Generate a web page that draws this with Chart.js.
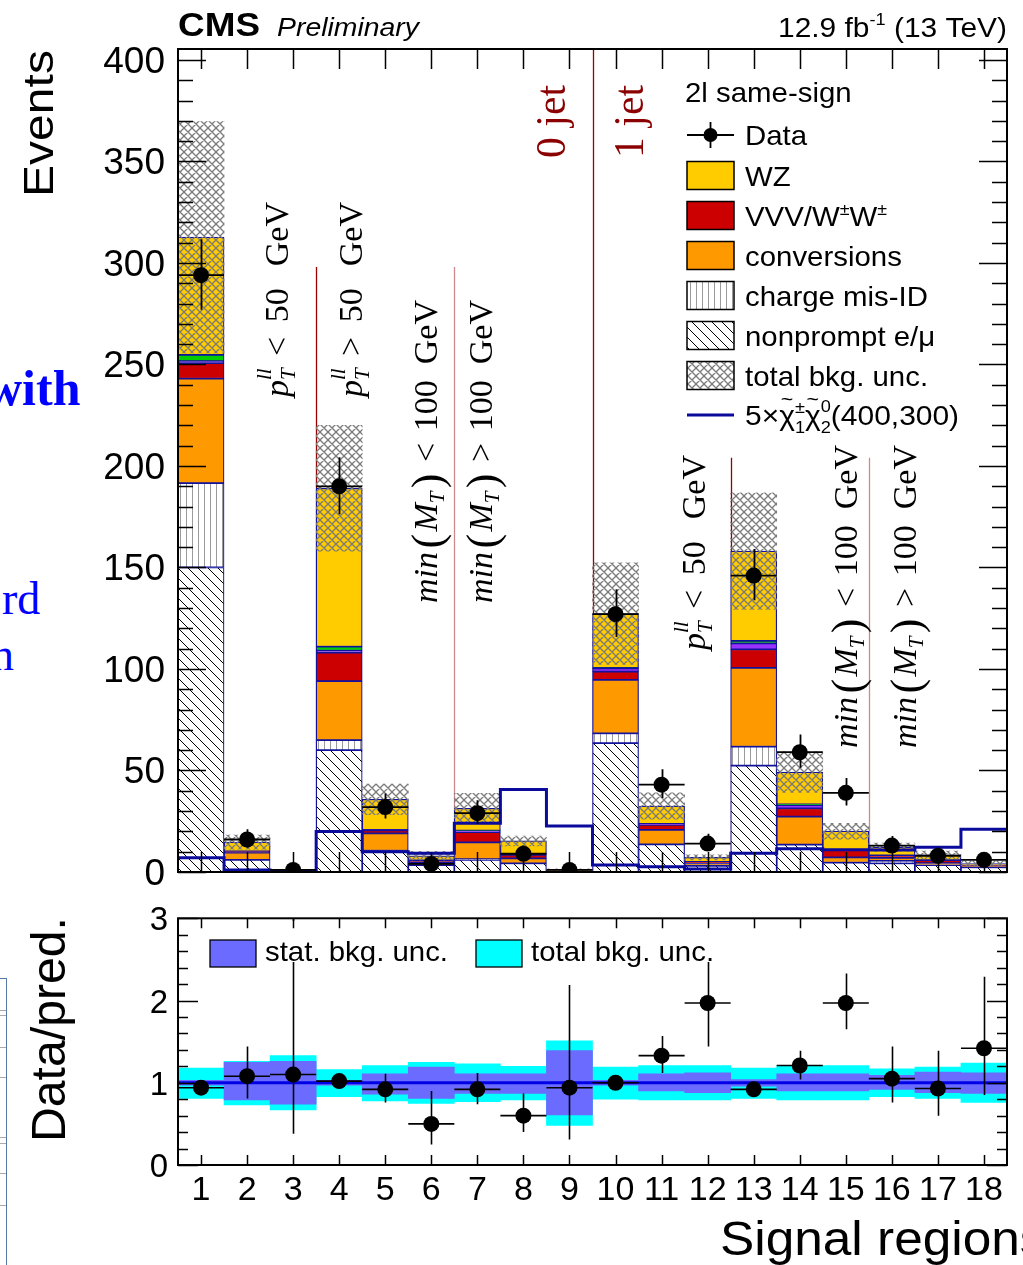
<!DOCTYPE html>
<html>
<head>
<meta charset="utf-8">
<title>2l same-sign signal regions</title>
<script src="https://cdn.jsdelivr.net/npm/chart.js@4.4.1/dist/chart.umd.min.js"></script>
<style>
  html, body { margin:0; padding:0; background:#fff; }
  body { width:1023px; height:1265px; overflow:hidden; position:relative; }
  canvas { position:absolute; left:0; }
  #cTop { top:0; }
  #cBot { top:880px; }
  .art { position:absolute; color:#0000ff; font-family:"Liberation Serif","Times New Roman",serif; white-space:nowrap; line-height:1; }
  .tbl { position:absolute; left:0; width:6px; border-right:1px solid #5577aa; border-top:1px solid #5577aa; }
  .tl { position:absolute; left:0; width:6px; height:1px; background:#aaaaaa; }
</style>
</head>
<body>
<div class="art" style="left:-14px; top:363px; font-size:50px; font-weight:bold;">with</div>
<div class="art" style="left:2px; top:576px; font-size:46px;">rd</div>
<div class="art" style="left:-9px; top:632px; font-size:46px;">n</div>
<div class="tbl" style="top:978px; height:287px;"></div>
<div class="tl" style="top:1010px"></div>
<div class="tl" style="top:1015px"></div>
<div class="tl" style="top:1047px"></div>
<div class="tl" style="top:1077px"></div>
<div class="tl" style="top:1137px"></div>
<div class="tl" style="top:1143px"></div>
<div class="tl" style="top:1173px"></div>
<div class="tl" style="top:1205px"></div>
<canvas id="cTop" width="1023" height="900"></canvas>
<canvas id="cBot" width="1023" height="385"></canvas>
<script>
// ---------------- DATA ----------------
const bins = [1,2,3,4,5,6,7,8,9,10,11,12,13,14,15,16,17,18];
const xTickLabels = ['1','2','3','4','5','6','7','8','9','10','11','12','13','14','15','16','17','18'];
const yTicksTop = [0,50,100,150,200,250,300,350,400];
const yTicksRatio = [0,1,2,3];

// stacked background components (events), bottom to top
const nonprompt   = [150, 6, 0.4, 60, 10, 3.4, 6, 4.3, 0.5, 63.5, 13.6, 3, 52.4, 13.5, 4.6, 4.3, 3.4, 2.3];
const chargeMisID = [41.5, 0, 0, 5, 0.5, 0, 0.3, 0, 0, 4.8, 0, 0, 9.3, 0, 0, 1.2, 0, 0];
const conversions = [51.5, 3.5, 0.2, 29, 8.5, 1.5, 8.3, 2.4, 0.3, 26.3, 7.1, 1.2, 38.9, 13.8, 2.6, 1.5, 1, 0.5];
const vvvWW       = [7.7, 0.7, 0.1, 14, 1.5, 0.8, 5, 1.7, 0.1, 4.1, 2.5, 0.8, 9.1, 4.1, 3.6, 1.2, 1.5, 0.6];
const otherPurple = [1, 0, 0, 1, 0.3, 0, 0.5, 0, 0, 1.6, 0.5, 0, 2.9, 1.6, 0, 0, 0, 0];
const otherGreen  = [3, 0, 0, 2, 0, 0, 0.3, 0, 0, 0.3, 0, 0, 1.3, 0.3, 0, 0, 0, 0];
const wz          = [58, 4.5, 0.2, 78, 15, 2.3, 11, 6.9, 0.2, 26.7, 8.8, 2.2, 44.2, 15.9, 9.3, 4, 2.5, 0.8];
const totUnc      = [57, 3.5, 0.4, 31, 7.5, 2, 7.4, 2.4, 0.5, 25, 6.5, 1.3, 28.7, 10, 3.9, 2, 1.9, 1.1];

const dataVals    = [294, 16, 1, 190, 32, 4, 29, 9, 1, 127, 43, 14, 146, 59, 39, 13, 8, 6];
const dataErrUp   = [17.7, 5.1, 2.3, 14.3, 6.7, 3.2, 6.4, 4.1, 2.3, 12.3, 7.6, 4.8, 13.1, 8.7, 7.3, 4.7, 3.9, 3.6];
const dataErrDown = [17.1, 4.0, 0.8, 13.8, 5.6, 1.9, 5.4, 2.9, 0.8, 11.3, 6.5, 3.7, 12.1, 7.7, 6.2, 3.6, 2.8, 2.4];

const signal      = [7, 1, 0.5, 20, 10, 9.2, 24, 40.7, 22.6, 3.4, 2.6, 1.5, 9.2, 11.5, 11, 10.8, 12.2, 21];

// ratio panel
const ratioVals   = [0.94, 1.08, 1.10, 1.02, 0.92, 0.50, 0.92, 0.60, 0.94, 1.00, 1.33, 1.97, 0.92, 1.21, 1.97, 1.05, 0.93, 1.42];
const ratioUp     = [1.00, 1.44, 3.60, 1.07, 1.11, 0.90, 1.12, 0.87, 2.19, 1.04, 1.57, 2.62, 1.00, 1.39, 2.33, 1.44, 1.39, 2.29];
const ratioDown   = [0.88, 0.81, 0.38, 0.97, 0.76, 0.25, 0.74, 0.40, 0.31, 0.96, 1.12, 1.44, 0.84, 1.04, 1.65, 0.76, 0.60, 0.85];
const totBandHi   = [1.18, 1.26, 1.33, 1.16, 1.21, 1.25, 1.23, 1.20, 1.51, 1.19, 1.21, 1.21, 1.18, 1.21, 1.21, 1.17, 1.19, 1.24];
const totBandLo   = [0.81, 0.73, 0.67, 0.83, 0.78, 0.75, 0.77, 0.79, 0.48, 0.80, 0.79, 0.79, 0.81, 0.79, 0.79, 0.83, 0.81, 0.76];
const statBandHi  = [1.03, 1.25, 1.26, 1.03, 1.11, 1.19, 1.11, 1.11, 1.39, 1.03, 1.11, 1.12, 1.04, 1.11, 1.11, 1.09, 1.13, 1.12];
const statBandLo  = [0.97, 0.79, 0.74, 0.97, 0.86, 0.81, 0.87, 0.87, 0.61, 0.97, 0.90, 0.88, 0.96, 0.90, 0.90, 0.92, 0.88, 0.87];

// region separators (bin-edge position, top value)
const dividerPos = [3.5, 6.5, 9.5, 12.5, 15.5];
const dividerTop = [298, 298, 999, 204, 204];
const dividerCol = ['#990000', '#cc8a8a', '#990000', '#990000', '#cc8a8a'];

// ---------------- STYLE HELPERS ----------------
const SANS = '"Liberation Sans", Arial, Helvetica, sans-serif';
const SERIF = '"Liberation Serif", "Times New Roman", serif';
const sans = (px, st) => (st ? st + ' ' : '') + px + 'px ' + SANS;
const serif = (px, st) => (st ? st + ' ' : '') + px + 'px ' + SERIF;

const C_WZ = '#FFCC00', C_VVV = '#CC0000', C_CONV = '#FF9900', C_PURP = '#9933FF', C_GREEN = '#00CC00';
const C_EDGE = '#12129c', C_SIG = '#0a0a9c';

function tile(size, draw) {
  const c = document.createElement('canvas');
  c.width = size; c.height = size;
  draw(c.getContext('2d'), size);
  return c;
}
const tileNonprompt = tile(10, (g, s) => {
  g.fillStyle = '#fff'; g.fillRect(0, 0, s, s);
  g.strokeStyle = '#000'; g.lineWidth = 1;
  g.beginPath();
  for (const o of [-s, 0, s]) { g.moveTo(o, 0); g.lineTo(o + s, s); }
  g.stroke();
});
const tileCharge = tile(6, (g, s) => {
  g.fillStyle = '#fff'; g.fillRect(0, 0, s, s);
  g.strokeStyle = '#9a9a9a'; g.lineWidth = 1;
  g.beginPath(); g.moveTo(0.5, 0); g.lineTo(0.5, s); g.stroke();
});
const tileCross = tile(8, (g, s) => {
  g.strokeStyle = '#7a7a7a'; g.lineWidth = 1.3;
  g.beginPath();
  for (const o of [-s, 0, s]) { g.moveTo(o, 0); g.lineTo(o + s, s); g.moveTo(o, s); g.lineTo(o + s, 0); }
  g.stroke();
});

// rich text: parts {t,f,dy,sup,supF,supDy,over,overF,overDy,g}
function drawRich(ctx, x, y, rot, parts, opt) {
  opt = opt || {};
  ctx.save();
  ctx.translate(x, y);
  if (rot) ctx.rotate(-Math.PI / 2);
  ctx.fillStyle = opt.color || '#000';
  ctx.textBaseline = 'alphabetic';
  ctx.textAlign = 'left';
  const widths = parts.map(p => {
    if (p.g) return 0;
    ctx.font = p.f;
    let w = ctx.measureText(p.t).width;
    if (p.sup) { ctx.font = p.supF || p.f; w = Math.max(w, ctx.measureText(p.sup).width); }
    return w;
  });
  const natural = widths.reduce((a, b) => a + b, 0);
  const gsum = parts.reduce((a, p) => a + (p.g || 0), 0);
  let sx = opt.sx || 1, per = 0;
  if (opt.len) {
    if (gsum > 0 && opt.len > natural) per = (opt.len - natural) / gsum;
    else sx = opt.len / natural;
  }
  const total = (natural + per * gsum) * sx;
  if (opt.align === 'right') ctx.translate(-total, 0);
  else if (opt.align === 'center') ctx.translate(-total / 2, 0);
  ctx.scale(sx, 1);
  let cx = 0;
  parts.forEach((p, i) => {
    if (p.g) { cx += p.g * per; return; }
    ctx.font = p.f;
    ctx.fillText(p.t, cx, p.dy || 0);
    if (p.over) {
      const wt = ctx.measureText(p.t).width;
      ctx.font = p.overF || p.f;
      const wo = ctx.measureText(p.over).width;
      ctx.fillText(p.over, cx + (wt - wo) / 2, p.overDy || 0);
    }
    if (p.sup) { ctx.font = p.supF || p.f; ctx.fillText(p.sup, cx, p.supDy); }
    cx += widths[i];
  });
  ctx.restore();
  return total;
}

function pLabel(sign) {
  return [
    { t: 'p', f: serif(34, 'italic') },
    { t: 'T', f: serif(21, 'italic'), dy: 7, sup: 'll', supF: serif(21, 'italic'), supDy: -17 },
    { g: 1 },
    { t: sign, f: serif(34) },
    { g: 1.2 },
    { t: '50', f: serif(34) },
    { g: 1.8 },
    { t: 'GeV', f: serif(34) }
  ];
}
function minLabel(sign) {
  return [
    { t: 'min', f: serif(34, 'italic') },
    { g: 0.3 },
    { t: '(', f: serif(44), dy: 5 },
    { g: 0.2 },
    { t: 'M', f: serif(34, 'italic') },
    { t: 'T', f: serif(21, 'italic'), dy: 7 },
    { g: 0.3 },
    { t: ')', f: serif(44), dy: 5 },
    { g: 1 },
    { t: sign, f: serif(34) },
    { g: 1 },
    { t: '100', f: serif(34) },
    { g: 1.4 },
    { t: 'GeV', f: serif(34) }
  ];
}

function drawFrame(chart, o) {
  const { ctx, chartArea: a, scales: { x, y } } = chart;
  ctx.save();
  ctx.strokeStyle = '#000';
  ctx.lineWidth = 1.5;
  ctx.beginPath();
  const n = Math.round((o.yEnd - o.yStart) / o.minor);
  for (let k = 0; k <= n; k++) {
    const v = o.yStart + k * o.minor;
    const major = Math.abs(v / o.major - Math.round(v / o.major)) < 1e-6;
    const L = major ? o.majLen : o.minLen;
    const py = Math.round(y.getPixelForValue(v)) + 0.5;
    ctx.moveTo(a.left, py); ctx.lineTo(a.left + L, py);
    ctx.moveTo(a.right, py); ctx.lineTo(a.right - L, py);
  }
  bins.forEach(b => {
    const px = Math.round(x.getPixelForValue(b)) + 0.5;
    ctx.moveTo(px, a.bottom); ctx.lineTo(px, a.bottom - o.xLen);
    ctx.moveTo(px, a.top); ctx.lineTo(px, a.top + o.xLen);
  });
  ctx.stroke();
  ctx.lineWidth = 2;
  ctx.strokeRect(a.left, a.top, a.right - a.left, a.bottom - a.top);
  ctx.restore();
}

function errorBars(chart, vals, up, down, lw) {
  const { ctx, chartArea: a, scales: { x, y } } = chart;
  ctx.save();
  ctx.beginPath(); ctx.rect(a.left, a.top, a.right - a.left, a.bottom - a.top); ctx.clip();
  ctx.strokeStyle = '#000'; ctx.lineWidth = lw;
  ctx.beginPath();
  bins.forEach((b, i) => {
    const cx = Math.round(x.getPixelForValue(b)) + 0.5;
    ctx.moveTo(cx, y.getPixelForValue(up[i]));
    ctx.lineTo(cx, y.getPixelForValue(down[i]));
    const cy = y.getPixelForValue(vals[i]);
    ctx.moveTo(x.getPixelForValue(b - 0.5), cy);
    ctx.lineTo(x.getPixelForValue(b + 0.5), cy);
  });
  ctx.stroke();
  ctx.restore();
}

// ---------------- TOP CHART ----------------
const ctxTop = document.getElementById('cTop').getContext('2d');
const patNonprompt = ctxTop.createPattern(tileNonprompt, 'repeat');
const patCharge = ctxTop.createPattern(tileCharge, 'repeat');
const patCross = ctxTop.createPattern(tileCross, 'repeat');

const stackDefs = [
  { label: 'nonprompt e/\u03bc', vals: nonprompt, bg: patNonprompt },
  { label: 'charge mis-ID', vals: chargeMisID, bg: patCharge },
  { label: 'conversions', vals: conversions, bg: C_CONV },
  { label: 'VVV/W\u00b1W\u00b1', vals: vvvWW, bg: C_VVV },
  { label: 'other (a)', vals: otherPurple, bg: C_PURP },
  { label: 'other (b)', vals: otherGreen, bg: C_GREEN },
  { label: 'WZ', vals: wz, bg: C_WZ }
];
const cum = bins.map(() => 0);
const stackDatasets = stackDefs.map(d => {
  const pts = bins.map((b, i) => {
    const lo = cum[i], hi = cum[i] + d.vals[i];
    cum[i] = hi;
    return d.vals[i] > 0 ? { x: b, y: [lo, hi] } : { x: b, y: null };
  });
  return {
    type: 'bar', label: d.label, data: pts, backgroundColor: d.bg,
    borderColor: C_EDGE, borderWidth: 1.2, borderSkipped: false,
    grouped: false, barPercentage: 1, categoryPercentage: 1, order: 3
  };
});
const pred = cum.slice();

const uncDataset = {
  type: 'bar', label: 'total bkg. unc.',
  data: bins.map((b, i) => ({ x: b, y: [pred[i] - totUnc[i], pred[i] + totUnc[i]] })),
  backgroundColor: patCross, borderWidth: 0, grouped: false,
  barPercentage: 1, categoryPercentage: 1, order: 2
};
const sigPoints = bins.map((b, i) => ({ x: b - 0.5, y: signal[i] }));
sigPoints.push({ x: bins[bins.length - 1] + 0.5, y: signal[signal.length - 1] });
const sigDataset = {
  type: 'line', label: '5x signal', data: sigPoints, stepped: 'before',
  borderColor: C_SIG, borderWidth: 3, pointRadius: 0, fill: false, order: 1
};
const dataDataset = {
  type: 'line', label: 'Data', data: bins.map((b, i) => ({ x: b, y: dataVals[i] })),
  showLine: false, pointRadius: 8, pointHoverRadius: 8, pointBackgroundColor: '#000',
  pointBorderColor: '#000', pointBorderWidth: 0, order: 0
};

const topDecor = {
  id: 'topDecor',
  beforeDatasetsDraw(chart) {
    const { ctx, scales: { x, y } } = chart;
    ctx.save();
    dividerPos.forEach((p, i) => {
      ctx.strokeStyle = dividerCol[i]; ctx.lineWidth = 1.3;
      const px = Math.round(x.getPixelForValue(p)) + 0.5;
      ctx.beginPath();
      ctx.moveTo(px, y.getPixelForValue(0));
      ctx.lineTo(px, y.getPixelForValue(Math.min(dividerTop[i], y.max)));
      ctx.stroke();
    });
    ctx.restore();
  },
  afterDatasetsDraw(chart) {
    errorBars(chart, dataVals,
      dataVals.map((v, i) => v + dataErrUp[i]),
      dataVals.map((v, i) => v - dataErrDown[i]), 1.8);
  },
  afterDraw(chart) {
    const { ctx, chartArea: a, scales: { x, y } } = chart;
    drawFrame(chart, { yStart: 0, yEnd: 400, minor: 10, major: 50, majLen: 28, minLen: 15, xLen: 20 });

    // y tick labels
    ctx.save();
    ctx.fillStyle = '#000'; ctx.font = sans(37); ctx.textAlign = 'right'; ctx.textBaseline = 'alphabetic';
    yTicksTop.forEach(v => ctx.fillText(String(v), a.left - 13, y.getPixelForValue(v) + 13));
    ctx.restore();

    // axis title
    drawRich(ctx, 53, 197, true, [{ t: 'Events', f: sans(42) }], { len: 147 });

    // header
    drawRich(ctx, 178, 36, false, [{ t: 'CMS', f: sans(34, 'bold') }], { len: 82 });
    drawRich(ctx, 277, 36, false, [{ t: 'Preliminary', f: sans(26, 'italic') }], { len: 142 });
    drawRich(ctx, 1007, 37, false, [
      { t: '12.9 fb', f: sans(28) },
      { t: '-1', f: sans(17), dy: -12 },
      { t: ' (13 TeV)', f: sans(28) }
    ], { len: 229, align: 'right' });

    // region labels
    drawRich(ctx, 288, 397, true, pLabel('<'), { len: 195 });
    drawRich(ctx, 362, 397, true, pLabel('>'), { len: 195 });
    drawRich(ctx, 437, 603, true, minLabel('<'), { len: 303 });
    drawRich(ctx, 492, 603, true, minLabel('>'), { len: 303 });
    drawRich(ctx, 705, 650, true, pLabel('<'), { len: 195 });
    drawRich(ctx, 857, 748, true, minLabel('<'), { len: 303 });
    drawRich(ctx, 916, 748, true, minLabel('>'), { len: 303 });
    drawRich(ctx, 565, 158, true, [{ t: '0 jet', f: serif(42) }], { len: 73, color: '#8B0000' });
    drawRich(ctx, 643, 158, true, [{ t: '1 jet', f: serif(42) }], { len: 73, color: '#8B0000' });

    // legend
    const LX = 687, LW = 47, LH = 28, TX = 745, SX = 1.05;
    drawRich(ctx, 685, 102, false, [{ t: '2l same-sign', f: sans(28) }], { sx: SX });
    // data row
    ctx.save();
    ctx.strokeStyle = '#000'; ctx.lineWidth = 1.8;
    ctx.beginPath();
    ctx.moveTo(LX, 135); ctx.lineTo(LX + LW, 135);
    ctx.moveTo(LX + LW / 2, 122); ctx.lineTo(LX + LW / 2, 148);
    ctx.stroke();
    ctx.fillStyle = '#000';
    ctx.beginPath(); ctx.arc(LX + LW / 2, 135, 7, 0, Math.PI * 2); ctx.fill();
    ctx.restore();
    drawRich(ctx, TX, 145, false, [{ t: 'Data', f: sans(28) }], { sx: SX });

    const boxes = [
      { c: 175.5, fill: C_WZ, parts: [{ t: 'WZ', f: sans(28) }] },
      { c: 215.5, fill: C_VVV, parts: [
        { t: 'VVV/W', f: sans(28) }, { t: '\u00b1', f: sans(17), dy: -11 },
        { t: 'W', f: sans(28) }, { t: '\u00b1', f: sans(17), dy: -11 }] },
      { c: 255.5, fill: C_CONV, parts: [{ t: 'conversions', f: sans(28) }] },
      { c: 295.5, fill: patCharge, parts: [{ t: 'charge mis-ID', f: sans(28) }] },
      { c: 335.5, fill: patNonprompt, parts: [{ t: 'nonprompt e/\u03bc', f: sans(28) }] },
      { c: 375.5, fill: patCross, under: '#fff', parts: [{ t: 'total bkg. unc.', f: sans(28) }] }
    ];
    boxes.forEach(bx => {
      ctx.save();
      if (bx.under) { ctx.fillStyle = bx.under; ctx.fillRect(LX, bx.c - LH / 2, LW, LH); }
      ctx.fillStyle = bx.fill; ctx.fillRect(LX, bx.c - LH / 2, LW, LH);
      ctx.strokeStyle = '#000'; ctx.lineWidth = 1.5;
      ctx.strokeRect(LX, bx.c - LH / 2, LW, LH);
      ctx.restore();
      drawRich(ctx, TX, bx.c + 10, false, bx.parts, { sx: SX });
    });
    ctx.save();
    ctx.strokeStyle = C_SIG; ctx.lineWidth = 3;
    ctx.beginPath(); ctx.moveTo(LX, 415); ctx.lineTo(LX + LW, 415); ctx.stroke();
    ctx.restore();
    drawRich(ctx, TX, 425, false, [
      { t: '5\u00d7', f: sans(28) },
      { t: '\u03c7', f: sans(28), over: '~', overF: sans(20), overDy: -19 },
      { t: '1', f: sans(17), dy: 8, sup: '\u00b1', supF: sans(17), supDy: -12 },
      { t: '\u03c7', f: sans(28), over: '~', overF: sans(20), overDy: -19 },
      { t: '2', f: sans(17), dy: 8, sup: '0', supF: sans(17), supDy: -13 },
      { t: '(400,300)', f: sans(28) }
    ], { sx: 1.07 });
  }
};

new Chart(ctxTop, {
  type: 'bar',
  data: { datasets: [dataDataset, sigDataset, uncDataset].concat(stackDatasets) },
  options: {
    responsive: false, animation: false, devicePixelRatio: 1, events: [],
    layout: { padding: { left: 178, right: 16, top: 49, bottom: 28 } },
    plugins: { legend: { display: false }, tooltip: { enabled: false } },
    scales: {
      x: { type: 'linear', min: 0.5, max: 18.5, display: false, offset: false,
           ticks: { stepSize: 1 } },
      y: { type: 'linear', min: 0, max: 405.4, display: false }
    }
  },
  plugins: [topDecor]
});

// ---------------- RATIO CHART ----------------
const ctxBot = document.getElementById('cBot').getContext('2d');

const botDecor = {
  id: 'botDecor',
  afterDatasetsDraw(chart) {
    const { ctx } = chart;
    errorBars(chart, ratioVals, ratioUp, ratioDown, 1.6);
    // legend (white fill)
    ctx.save();
    ctx.fillStyle = '#fff';
    ctx.fillRect(200, 41, 520, 41);
    ctx.fillStyle = '#6B6BFF'; ctx.fillRect(210, 60, 46, 27);
    ctx.fillStyle = '#00FFFF'; ctx.fillRect(476, 60, 46, 27);
    ctx.strokeStyle = '#000'; ctx.lineWidth = 1.3;
    ctx.strokeRect(210, 60, 46, 27);
    ctx.strokeRect(476, 60, 46, 27);
    ctx.restore();
    drawRich(ctx, 265, 81, false, [{ t: 'stat. bkg. unc.', f: sans(28) }], { sx: 1.05 });
    drawRich(ctx, 531, 81, false, [{ t: 'total bkg. unc.', f: sans(28) }], { sx: 1.05 });
  },
  afterDraw(chart) {
    const { ctx, chartArea: a, scales: { x, y } } = chart;
    drawFrame(chart, { yStart: 0, yEnd: 3, minor: 0.2, major: 1, majLen: 20, minLen: 10, xLen: 10 });
    ctx.save();
    ctx.fillStyle = '#000';
    ctx.font = sans(33); ctx.textAlign = 'right'; ctx.textBaseline = 'alphabetic';
    yTicksRatio.forEach(v => ctx.fillText(String(v), a.left - 10, y.getPixelForValue(v) + 12));
    ctx.font = sans(34); ctx.textAlign = 'center';
    bins.forEach((b, i) => ctx.fillText(xTickLabels[i], x.getPixelForValue(b), 320));
    ctx.restore();
    drawRich(ctx, 65, 262, true, [{ t: 'Data/pred.', f: sans(48) }], { len: 225 });
    drawRich(ctx, 720, 375, false, [{ t: 'Signal regions', f: sans(48) }], { sx: 1.07 });
  }
};

new Chart(ctxBot, {
  type: 'bar',
  data: {
    datasets: [
      { type: 'line', label: 'Data/pred.', data: bins.map((b, i) => ({ x: b, y: ratioVals[i] })),
        showLine: false, pointRadius: 8, pointHoverRadius: 8, pointBackgroundColor: '#000',
        pointBorderColor: '#000', pointBorderWidth: 0, order: 0, clip: false },
      { type: 'line', label: 'unity', data: [{ x: 0.5, y: 1 }, { x: 18.5, y: 1 }],
        borderColor: '#0000e6', borderWidth: 3, pointRadius: 0, order: 1 },
      { type: 'bar', label: 'stat. bkg. unc.', data: bins.map((b, i) => ({ x: b, y: [statBandLo[i], statBandHi[i]] })),
        backgroundColor: '#6B6BFF', borderWidth: 0, grouped: false, barPercentage: 1, categoryPercentage: 1, order: 2 },
      { type: 'bar', label: 'total bkg. unc.', data: bins.map((b, i) => ({ x: b, y: [totBandLo[i], totBandHi[i]] })),
        backgroundColor: '#00FFFF', borderWidth: 0, grouped: false, barPercentage: 1, categoryPercentage: 1, order: 3 }
    ]
  },
  options: {
    responsive: false, animation: false, devicePixelRatio: 1, events: [],
    layout: { padding: { left: 178, right: 16, top: 38.3, bottom: 100 } },
    plugins: { legend: { display: false }, tooltip: { enabled: false } },
    scales: {
      x: { type: 'linear', min: 0.5, max: 18.5, display: false, offset: false, ticks: { stepSize: 1 } },
      y: { type: 'linear', min: 0, max: 3, display: false }
    }
  },
  plugins: [botDecor]
});
</script>
</body>
</html>
